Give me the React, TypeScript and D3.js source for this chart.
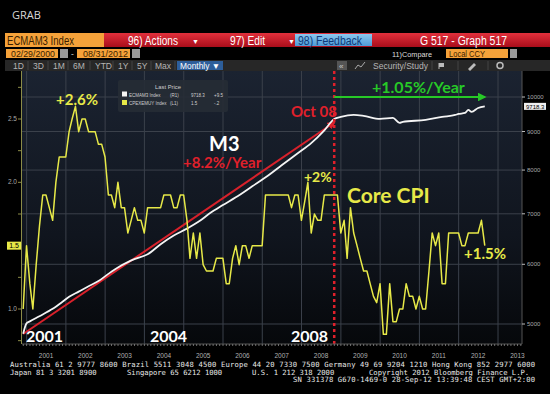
import React from 'react';
import * as d3 from 'd3';

const W = 550;
const H = 394;

// CPEXEMUY Index (core CPI, % y/y), monthly, first month below
const cpiStart = '2000-11';
const cpiValues = [
  1.0, 1.5, 1.2, 1.0, 1.35, 1.65, 1.9, 1.9, 1.8, 1.7, 2.0, 2.2,
  2.2, 2.2, 2.4, 2.5, 2.6, 2.4, 2.5, 2.5, 2.4, 2.4, 2.4, 2.3,
  2.3, 2.2, 1.9, 1.9, 1.8, 2.0, 1.8, 1.8, 1.6, 1.7, 1.8, 1.7,
  1.7, 1.6, 1.8, 1.8, 1.8, 1.8, 1.8, 1.9, 1.9, 1.9, 1.8, 1.8,
  1.9, 1.9, 1.7, 1.4, 1.6, 1.4, 1.6, 1.35, 1.3, 1.3, 1.3, 1.4,
  1.4, 1.4, 1.2, 1.2, 1.4, 1.5, 1.35, 1.5, 1.5, 1.4, 1.5, 1.5,
  1.5, 1.5, 1.9, 1.9, 1.9, 1.9, 1.9, 1.9, 1.9, 1.9, 1.8, 1.9,
  1.9, 1.7, 1.85, 2.0, 1.6, 1.75, 1.7, 1.7, 1.9, 1.9, 1.9, 1.9,
  1.9, 1.6, 1.7, 1.4, 1.8, 1.6, 1.5, 1.4, 1.3, 1.3, 1.2, 1.1,
  1.05, 1.2, 0.8, 0.8, 1.2, 0.9, 0.9, 1.0, 1.0, 1.2, 1.1, 1.1,
  1.0, 1.1, 1.0, 1.0, 1.3, 1.6, 1.5, 1.6, 1.2, 1.2, 1.6, 1.6,
  1.6, 1.6, 1.5, 1.5, 1.6, 1.6, 1.6, 1.6, 1.7, 1.5,
];

// ECMAM3 Index (M3 level), read at these months
const m3Months = [
  '2000-11', '2000-12', '2001-01', '2001-04', '2001-08', '2001-11', '2002-01', '2002-04',
  '2002-07', '2002-10', '2003-01', '2003-04', '2003-07', '2003-09', '2004-01', '2004-05',
  '2004-09', '2005-01', '2005-05', '2005-08', '2005-12', '2006-04', '2006-09', '2007-02',
  '2007-06', '2007-11', '2008-03', '2008-07', '2008-10', '2008-12', '2009-04', '2009-07',
  '2009-12', '2010-04', '2010-06', '2010-07', '2011-02', '2011-07', '2011-11', '2011-12',
  '2012-02', '2012-03', '2012-04', '2012-06', '2012-08',
];
const m3Values = [
  4853, 5010, 5040, 5120, 5237, 5350, 5434, 5520,
  5610, 5700, 5827, 5943, 6040, 6094, 6186, 6380,
  6551, 6691, 6852, 7010, 7189, 7361, 7615, 7877,
  8120, 8428, 8687, 9033, 9352, 9410, 9467, 9440,
  9352, 9380, 9240, 9270, 9325, 9410, 9467, 9495,
  9524, 9612, 9555, 9670, 9718.3,
];

// trend annotations
const trendMonths = ['2000-11', '2008-10'];
const trendValues = [4850, 9250];
const flatMonths = ['2008-10', '2012-08'];
const flatValues = [10000, 10000];
const markerMonth = '2008-10';

const leftTicks = [1.0, 2.0, 2.5];
const leftMinor = [0.75, 1.0, 1.25, 1.5, 1.75, 2.0, 2.25, 2.5, 2.75];
const rightTicks = [5000, 6000, 7000, 8000, 9000, 10000];
const yearLabels = ['2001', '2002', '2003', '2004', '2005', '2006', '2007', '2008', '2009', '2010', '2011', '2012', '2013'];

const monthEnd = (s: string) => {
  const [y, m] = s.split('-').map(Number);
  return new Date(y, m, 0);
};

const plot = { l: 22, r: 522, t: 71, b: 344 };

const x = d3.scaleTime().domain([new Date(2000, 10, 19), new Date(2013, 7, 12)]).range([plot.l, plot.r]);
const yL = d3.scaleLinear().domain([1.0, 2.5]).range([309, 119]);
const yR = d3.scaleLog().domain([5000, 10000]).range([324, 97]);

const start = monthEnd(cpiStart);
const cpiDates = cpiValues.map((_, i) => new Date(start.getFullYear(), start.getMonth() + 1 + i, 0));

const cpiLine = d3.line<number>().x((_, i) => x(cpiDates[i])).y((d) => yL(d))(cpiValues) || '';
const m3Line = d3.line<number>().x((_, i) => x(monthEnd(m3Months[i]))).y((d) => yR(d)).curve(d3.curveMonotoneX)(m3Values) || '';
const trendLine = d3.line<number>().x((_, i) => x(monthEnd(trendMonths[i]))).y((d) => yR(d))(trendValues) || '';
const flatLine = d3.line<number>().x((_, i) => x(monthEnd(flatMonths[i]))).y((d) => yR(d))(flatValues) || '';

const yearStarts = d3.timeYear.range(new Date(2001, 0, 1), new Date(2014, 0, 1));
const months = d3.timeMonth.range(new Date(2000, 11, 1), new Date(2013, 8, 1));

const mono = '"DejaVu Sans Mono", "Liberation Mono", monospace';
const narrow = '"Liberation Sans Narrow", "Liberation Sans", Arial, sans-serif';
const ann = 'Lato, "Noto Sans", sans-serif';
const fit = { lengthAdjust: 'spacingAndGlyphs' as const };

export default function App() {
  const xm = x(monthEnd(markerMonth));
  const lastCpi = cpiValues[cpiValues.length - 1];
  const lastM3 = m3Values[m3Values.length - 1];
  return (
    <svg width={W} height={H} style={{ position: 'absolute', left: 0, top: 0, background: '#000' }}>
      <defs>
        <linearGradient id="plotBg" x1="0" y1="0" x2="0" y2="1">
          <stop offset="0" stopColor="#1b2331" />
          <stop offset="0.6" stopColor="#10151e" />
          <stop offset="1" stopColor="#06080b" />
        </linearGradient>
        <linearGradient id="redBar" x1="0" y1="0" x2="0" y2="1">
          <stop offset="0" stopColor="#e2303c" />
          <stop offset="1" stopColor="#a90d1b" />
        </linearGradient>
        <linearGradient id="blueBtn" x1="0" y1="0" x2="0" y2="1">
          <stop offset="0" stopColor="#8cc8f0" />
          <stop offset="1" stopColor="#4f9bd6" />
        </linearGradient>
        <clipPath id="plotClip">
          <rect x={plot.l} y={plot.t} width={plot.r - plot.l} height={plot.b - plot.t} />
        </clipPath>
        <marker id="redHead" viewBox="0 0 10 10" refX="8" refY="5" markerWidth="4" markerHeight="4" orient="auto">
          <path d="M0,0 L10,5 L0,10 z" fill="#d8212b" />
        </marker>
        <marker id="greenHead" viewBox="0 0 10 10" refX="8" refY="5" markerWidth="4" markerHeight="4" orient="auto">
          <path d="M0,0 L10,5 L0,10 z" fill="#27c927" />
        </marker>
      </defs>

      <text x={12} y={19} fontFamily='"Open Sans", sans-serif' fontSize={11} fill="#d8d8d8">GRAB</text>

      {/* top bar */}
      <rect x={5} y={33} width={545} height={14} fill="url(#redBar)" />
      <rect x={5} y={33} width={99} height={14} fill="#f5a23a" />
      <text x={7} y={45} fontFamily={narrow} fontSize={12} fill="#3a1e00" textLength={67} {...fit}>ECMAM3 Index</text>
      <text x={128} y={45} fontFamily={narrow} fontSize={12} fill="#fff" textLength={50} {...fit}>96) Actions</text>
      <text x={192} y={44} fontFamily={narrow} fontSize={7} fill="#fff">▼</text>
      <text x={230} y={45} fontFamily={narrow} fontSize={12} fill="#fff" textLength={35} {...fit}>97) Edit</text>
      <text x={288} y={44} fontFamily={narrow} fontSize={7} fill="#fff">▼</text>
      <rect x={295} y={34} width={77} height={12} fill="url(#blueBtn)" />
      <text x={298} y={45} fontFamily={narrow} fontSize={12} fill="#0f3a78" textLength={64} {...fit}>98) Feedback</text>
      <text x={420} y={45} fontFamily={narrow} fontSize={12} fill="#fff" textLength={87} {...fit}>G 517 - Graph 517</text>

      {/* date row */}
      <rect x={6} y={49} width={52} height={9} fill="#f5a23a" />
      <text x={11} y={57} fontFamily={narrow} fontSize={8.5} fill="#3a1e00" textLength={44} {...fit}>02/29/2000</text>
      <rect x={60} y={49} width={8} height={9} fill="#9a9a9a" />
      <text x={71} y={57} fontFamily={narrow} fontSize={8.5} fill="#ccc">-</text>
      <rect x={77} y={49} width={53} height={9} fill="#f5a23a" />
      <text x={83} y={57} fontFamily={narrow} fontSize={8.5} fill="#3a1e00" textLength={45} {...fit}>08/31/2012</text>
      <rect x={132} y={49} width={8} height={9} fill="#9a9a9a" />
      <text x={392} y={57} fontFamily={narrow} fontSize={8} fill="#ddd" textLength={40} {...fit}>11)Compare</text>
      <rect x={446} y={49} width={62} height={9} fill="#f5a23a" />
      <text x={449} y={57} fontFamily={narrow} fontSize={8.5} fill="#3a1e00" textLength={36} {...fit}>Local CCY</text>
      <rect x={510} y={49} width={7} height={9} fill="#9a9a9a" />

      {/* tool row */}
      <rect x={5} y={60} width={545} height={11} fill="#272727" />
      {[['1D', 13], ['3D', 33], ['1M', 53], ['6M', 73], ['YTD', 95], ['1Y', 118], ['5Y', 137], ['Max', 155]].map(([t, px]) => (
        <text key={t as string} x={px as number} y={69} fontFamily={narrow} fontSize={8.5} fill="#b5b5b5">{t}</text>
      ))}
      {[28, 48, 68, 90, 113, 132, 151, 175, 432, 458, 488].map((sx) => (
        <line key={sx} x1={sx} x2={sx} y1={61} y2={70} stroke="#444" />
      ))}
      <rect x={177} y={61} width={46} height={9} fill="#2d5e9a" />
      <text x={180} y={69} fontFamily={narrow} fontSize={8.5} fill="#fff" textLength={40} {...fit}>Monthly ▼</text>
      <rect x={337} y={61} width={10} height={9} fill="#555" />
      <text x={339} y={68.5} fontFamily={narrow} fontSize={8} fill="#ccc">«</text>
      <polyline points="355,69 358,65 361,67 365,62" fill="none" stroke="#aaa" strokeWidth={1} />
      <text x={373} y={69} fontFamily={narrow} fontSize={8.5} fill="#b5b5b5" textLength={55} {...fit}>Security/Study</text>
      <rect x={439} y={63} width={5} height={4} fill="#bbb" />
      <line x1={439} x2={439} y1={63} y2={69} stroke="#bbb" />
      <path d="M468,69 L474,63 L476,65 L470,71 Z" fill="#bbb" />
      <circle cx={500} cy={65.5} r={3} fill="none" stroke="#bbb" strokeWidth={1.5} />

      {/* plot area */}
      <rect x={plot.l} y={plot.t} width={plot.r - plot.l} height={plot.b - plot.t} fill="url(#plotBg)" />

      {rightTicks.map((v) => (
        <line key={v} x1={plot.l} x2={plot.r} y1={yR(v)} y2={yR(v)} stroke="#3b414b" strokeWidth={1} />
      ))}
      {yearStarts.map((d) => (
        <line key={+d} x1={x(d)} x2={x(d)} y1={plot.t} y2={plot.b} stroke="#3b414b" strokeWidth={1} />
      ))}

      <g clipPath="url(#plotClip)">
        <path d={trendLine} fill="none" stroke="#d8212b" strokeWidth={2} markerEnd="url(#redHead)" />
        <path d={m3Line} fill="none" stroke="#f4f4f4" strokeWidth={1.8} />
        <path d={cpiLine} fill="none" stroke="#e7e948" strokeWidth={1.5} strokeLinejoin="round" />
        <line x1={xm} x2={xm} y1={plot.t} y2={plot.b} stroke="#e0202b" strokeWidth={2.5} strokeDasharray="3 3" />
        <path d={flatLine} fill="none" stroke="#27c927" strokeWidth={2.2} markerEnd="url(#greenHead)" />
      </g>

      {/* left axis */}
      <line x1={21.5} x2={21.5} y1={plot.t} y2={plot.b} stroke="#8c8c48" strokeWidth={1} />
      {leftMinor.map((v) => (
        <line key={v} x1={18} x2={21.5} y1={yL(v)} y2={yL(v)} stroke="#8c8c48" />
      ))}
      {leftTicks.map((v) => (
        <text key={v} x={17} y={yL(v) + 2} textAnchor="end" fontFamily={narrow} fontSize={6.5} fill="#a8a8a8">{v.toFixed(1)}</text>
      ))}
      <rect x={7} y={yL(lastCpi) - 4} width={14} height={8} fill="#e7e948" />
      <text x={14} y={yL(lastCpi) + 2.5} textAnchor="middle" fontFamily={narrow} fontSize={7} fill="#000">{lastCpi.toFixed(1)}</text>

      {/* right axis */}
      <line x1={plot.r} x2={plot.r} y1={plot.t} y2={plot.b} stroke="#555" strokeWidth={1} />
      {rightTicks.map((v) => (
        <g key={v}>
          <line x1={plot.r} x2={plot.r + 3} y1={yR(v)} y2={yR(v)} stroke="#bbb" />
          <text x={plot.r + 5} y={yR(v) + 2} fontFamily={narrow} fontSize={6} fill="#a8a8a8">{v}</text>
        </g>
      ))}
      <rect x={524} y={yR(lastM3) - 3.5} width={22} height={7} fill="#eee" />
      <text x={526} y={yR(lastM3) + 2.2} fontFamily={narrow} fontSize={6} fill="#000">{lastM3.toFixed(1)}</text>

      {/* bottom axis */}
      <line x1={plot.l} x2={plot.r} y1={plot.b} y2={plot.b} stroke="#555" />
      {months.map((d) => (
        <line key={+d} x1={x(d)} x2={x(d)} y1={plot.b} y2={plot.b + 2} stroke="#888" strokeWidth={0.8} />
      ))}
      {yearLabels.map((yl) => (
        <text key={yl} x={x(new Date(+yl, 6, 1))} y={358} textAnchor="middle" fontFamily={narrow} fontSize={6.5} fill="#b0b0b0">{yl}</text>
      ))}

      {/* legend */}
      <rect x={118} y={80} width={110} height={32} rx={2} fill="#262c35" opacity={0.9} />
      <text x={168} y={88.5} textAnchor="middle" fontFamily={narrow} fontSize={5.8} fill="#cfcfcf">Last Price</text>
      <rect x={122} y={91.5} width={5} height={5} fill="#f4f4f4" />
      <rect x={122} y={100} width={5} height={5} fill="#e7e948" />
      {[
        ['ECMAM3 Index', '(R1)', '9718.3', '+9.5', 96.5],
        ['CPEXEMUY Index', '(L1)', '1.5', '-.2', 105],
      ].map(([a, b, c, dd, ly]) => (
        <g key={a as string} fontFamily={narrow} fontSize={4.5} fill="#d0d0d0">
          <text x={129} y={ly as number}>{a}</text>
          <text x={170} y={ly as number}>{b}</text>
          <text x={191} y={ly as number}>{c}</text>
          <text x={214} y={ly as number}>{dd}</text>
        </g>
      ))}

      {/* annotations */}
      <g fontFamily={ann} fontWeight="bold">
        <text x={56} y={105} fontSize={15} fill="#e7e948">+2.6%</text>
        <text x={209} y={151} fontSize={20} fill="#fff">M3</text>
        <text x={183} y={168} fontSize={15} fill="#e0202b">+8.2%/Year</text>
        <text x={291} y={117} fontSize={15} fill="#e0202b">Oct 08</text>
        <text x={304} y={182} fontSize={14} fill="#e7e948">+2%</text>
        <text x={347} y={203} fontSize={21} fill="#e7e948">Core CPI</text>
        <text x={464} y={259} fontSize={15} fill="#e7e948">+1.5%</text>
        <text x={372} y={93} fontSize={16} fill="#27c927">+1.05%/Year</text>
        <text x={26} y={342} fontSize={16} fill="#fff">2001</text>
        <text x={150} y={342} fontSize={16} fill="#fff">2004</text>
        <text x={291} y={342} fontSize={16} fill="#fff">2008</text>
      </g>

      {/* footer */}
      <g fontFamily={mono} fontSize={7.2} fill="#e8e8e8">
        <text x={10} y={367} textLength={525}>Australia 61 2 9777 8600 Brazil 5511 3048 4500 Europe 44 20 7330 7500 Germany 49 69 9204 1210 Hong Kong 852 2977 6000</text>
        <text x={10} y={374.5}>Japan 81 3 3201 8900</text>
        <text x={127} y={374.5}>Singapore 65 6212 1000</text>
        <text x={252} y={374.5}>U.S. 1 212 318 2000</text>
        <text x={369} y={374.5}>Copyright 2012 Bloomberg Finance L.P.</text>
        <text x={293} y={382} textLength={242}>SN 331378 G670-1469-0 28-Sep-12 13:39:48 CEST GMT+2:00</text>
      </g>
    </svg>
  );
}
